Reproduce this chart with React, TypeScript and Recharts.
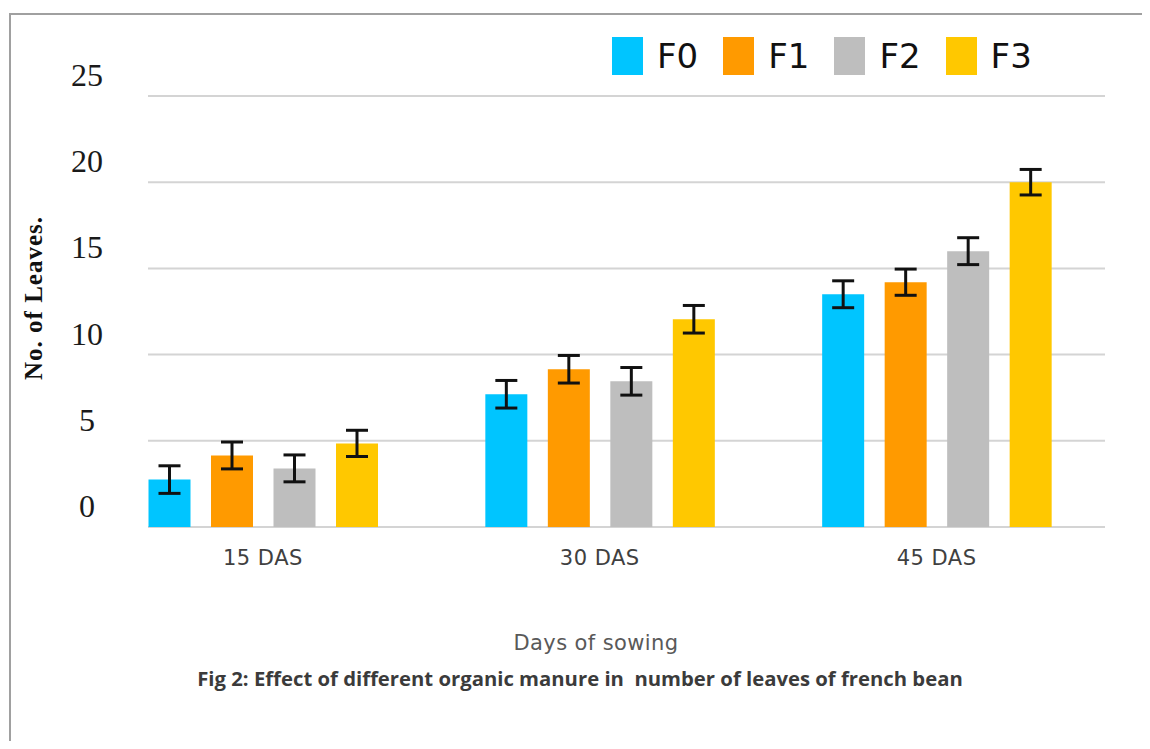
import React from 'react';
import { BarChart, Bar, XAxis, YAxis, CartesianGrid, ErrorBar, Legend } from 'recharts';

const categories = ['15 DAS', '30 DAS', '45 DAS'];
const f0Values = [2.75, 7.7, 13.5];
const f1Values = [4.15, 9.15, 14.2];
const f2Values = [3.4, 8.45, 16.0];
const f3Values = [4.85, 12.05, 20.0];
const f0Errors = [0.8, 0.8, 0.78];
const f1Errors = [0.78, 0.8, 0.76];
const f2Errors = [0.78, 0.8, 0.78];
const f3Errors = [0.76, 0.8, 0.74];
const yTicks = [0, 5, 10, 15, 20, 25];

const seriesNames = ['F0', 'F1', 'F2', 'F3'];
const seriesColors = ['#00C5FF', '#FF9A00', '#BEBEBE', '#FFC800'];

const data = categories.map((c, i) => ({
  category: c,
  f0: f0Values[i],
  f1: f1Values[i],
  f2: f2Values[i],
  f3: f3Values[i],
  f0e: f0Errors[i],
  f1e: f1Errors[i],
  f2e: f2Errors[i],
  f3e: f3Errors[i],
}));

const YTick = (props: any) => {
  const { y, payload } = props;
  return (
    <text x={87} y={y} dy={-10} textAnchor="middle" fontFamily="'Liberation Serif', serif" fontSize={32} fill="#1a1a1a">
      {payload.value}
    </text>
  );
};

const XTick = (props: any) => {
  const { x, payload } = props;
  return (
    <text x={x} y={565} textAnchor="middle" fontFamily="'DejaVu Sans', sans-serif" fontSize={21} letterSpacing={0.5} fill="#404040">
      {payload.value}
    </text>
  );
};

const LegendContent = (props: any) => {
  const { payload } = props;
  return (
    <div style={{ display: 'flex', alignItems: 'center' }}>
      {(payload || []).map((entry: any, i: number) => (
        <div key={i} style={{ display: 'flex', alignItems: 'center', marginRight: i < 3 ? 25 : 0 }}>
          <div style={{ width: 31, height: 38, background: entry.color, marginRight: 14 }} />
          <span style={{ fontFamily: "'DejaVu Sans', sans-serif", fontSize: 34, color: '#111', lineHeight: '38px' }}>{entry.value}</span>
        </div>
      ))}
    </div>
  );
};

const XTitle = () => (
  <text x={596} y={650} textAnchor="middle" fontFamily="'DejaVu Sans', sans-serif" fontSize={21} letterSpacing={0.4} fill="#595959">
    Days of sowing
  </text>
);

const YTitle = () => (
  <text
    transform="translate(42,298) rotate(-90)"
    textAnchor="middle"
    fontFamily="'Liberation Serif', serif"
    fontWeight="bold"
    fontSize={25}
    letterSpacing={1}
    fill="#111"
  >
    No. of Leaves.
  </text>
);

export default function App() {
  const keys = ['f0', 'f1', 'f2', 'f3'];
  return (
    <div style={{ position: 'relative', width: 1150, height: 749, margin: -8, overflow: 'hidden', background: '#fff' }}>
      <div
        style={{
          position: 'absolute',
          left: 9,
          top: 13,
          width: 1136,
          height: 800,
          borderLeft: '2px solid #a0a0a0',
          borderTop: '2px solid #a0a0a0',
          borderRight: '1px solid #e8e8e8',
        }}
      />
      <div style={{ position: 'absolute', left: 0, top: 0 }}>
        <BarChart
          width={1150}
          height={749}
          data={data}
          margin={{ top: 96, right: 45, bottom: 192, left: 0 }}
          barSize={42}
          barGap={20.5}
        >
          <CartesianGrid vertical={false} stroke="#d4d4d4" strokeWidth={2} />
          <XAxis
            dataKey="category"
            axisLine={false}
            tickLine={false}
            height={30}
            padding={{ left: -53.5, right: 0 }}
            tick={<XTick />}
            interval={0}
            label={<XTitle />}
          />
          <YAxis
            width={148}
            domain={[0, 25]}
            ticks={yTicks}
            axisLine={false}
            tickLine={false}
            tick={<YTick />}
            label={<YTitle />}
          />
          <Legend
            layout="horizontal"
            align="center"
            verticalAlign="middle"
            wrapperStyle={{ top: 37, left: 612, width: 'auto' }}
            content={<LegendContent />}
          />
          {keys.map((k, i) => (
            <Bar key={k} dataKey={k} name={seriesNames[i]} fill={seriesColors[i]} isAnimationActive={false}>
              <ErrorBar dataKey={k + 'e'} width={11} strokeWidth={3} stroke="#111" direction="y" />
            </Bar>
          ))}
        </BarChart>
      </div>
      <div
        style={{
          position: 'absolute',
          left: 0,
          top: 664,
          width: 1160,
          textAlign: 'center',
          fontFamily: "'Open Sans', sans-serif",
          fontWeight: 700,
          fontSize: 20.3,
          color: '#3b3b3b',
          whiteSpace: 'pre',
        }}
      >
        {'Fig 2: Effect of different organic manure in  number of leaves of french bean'}
      </div>
    </div>
  );
}
